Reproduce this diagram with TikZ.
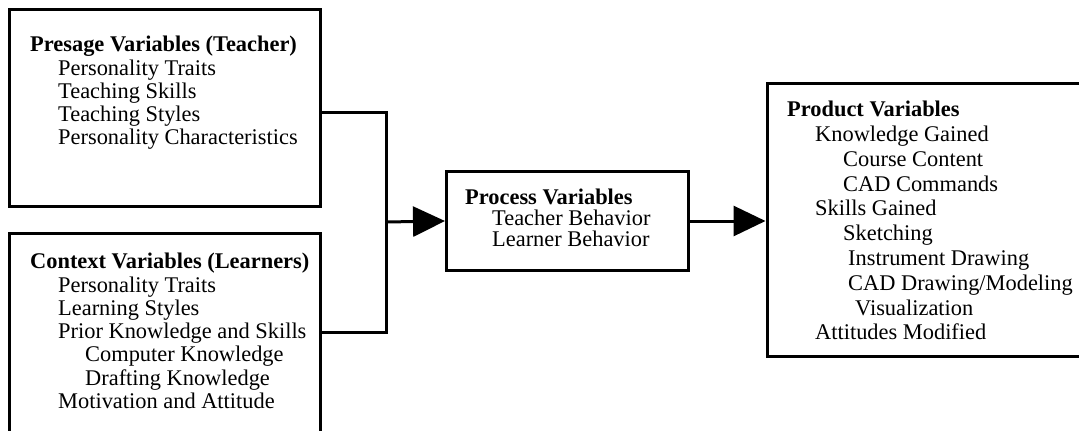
\documentclass[tikz,border=0pt]{standalone}
\usepackage{fontspec}
\setmainfont{Liberation Serif}
\usetikzlibrary{arrows.meta,positioning}
\tikzset{
    every node/.style={font=\fontsize{22.4}{23.3}\selectfont},
}
\newcommand{\ind}[1]{\hspace*{#1pt}}

\begin{document}
\begin{tikzpicture}[x=1pt,y=-1pt,
        box/.style={draw,line width=3pt,inner sep=0pt},
        txt/.style={align=left,inner sep=0pt,anchor=north west},
        wire/.style={line width=3pt},
        flow/.style={line width=3pt,-{Triangle[length=32pt,width=30pt]}}
    ]
    \clip[use as bounding box] (0,0) rectangle (1079,431);

    % boxes
    \node[box,minimum width=311pt,minimum height=197pt] (pres) at (165,108) {};
    \node[box,minimum width=311pt,minimum height=201pt] (ctx) at (165,334) {};
    \node[box,minimum width=242pt,minimum height=99pt] (proc) at (567.5,221) {};
    \node[box,minimum width=318pt,minimum height=273pt] (prod) at (926,220) {};

    % texts
    \node[txt] (prestxt) at (30,36) {\textbf{Presage Variables (Teacher)}\\
        \ind{28}Personality Traits\\
        \ind{28}Teaching Skills\\
        \ind{28}Teaching Styles\\
        \ind{28}Personality Characteristics};
    \node[txt] (ctxtxt) at (30,253) {\textbf{Context Variables (Learners)}\\
        \ind{28}Personality Traits\\
        \ind{28}Learning Styles\\
        \ind{28}Prior Knowledge and Skills\\
        \ind{55}Computer Knowledge\\
        \ind{55}Drafting Knowledge\\
        \ind{28}Motivation and Attitude};
    \node[txt,font=\fontsize{22.4}{21}\selectfont] (proctxt) at (465,189) {\textbf{Process Variables}\\
        \ind{27}Teacher Behavior\\
        \ind{27}Learner Behavior};
    \node[txt,font=\fontsize{22.4}{24.8}\selectfont] (prodtxt) at (787,101) {\textbf{Product Variables}\\
        \ind{28}Knowledge Gained\\
        \ind{56}Course Content\\
        \ind{56}CAD Commands\\
        \ind{28}Skills Gained\\
        \ind{56}Sketching\\
        \ind{61}Instrument Drawing\\
        \ind{61}CAD Drawing/Modeling\\
        \ind{68}Visualization\\
        \ind{28}Attitudes Modified};

    % connectors
    \coordinate (join) at (386,222);
    \draw[wire] ([yshift=-4pt]pres.east) -| (join) |- ([yshift=2pt]ctx.east);
    \draw[flow] (join) -- (proc.west);
    \draw[flow] (proc.east) -- (proc.east -| prod.west);
\end{tikzpicture}
\end{document}
